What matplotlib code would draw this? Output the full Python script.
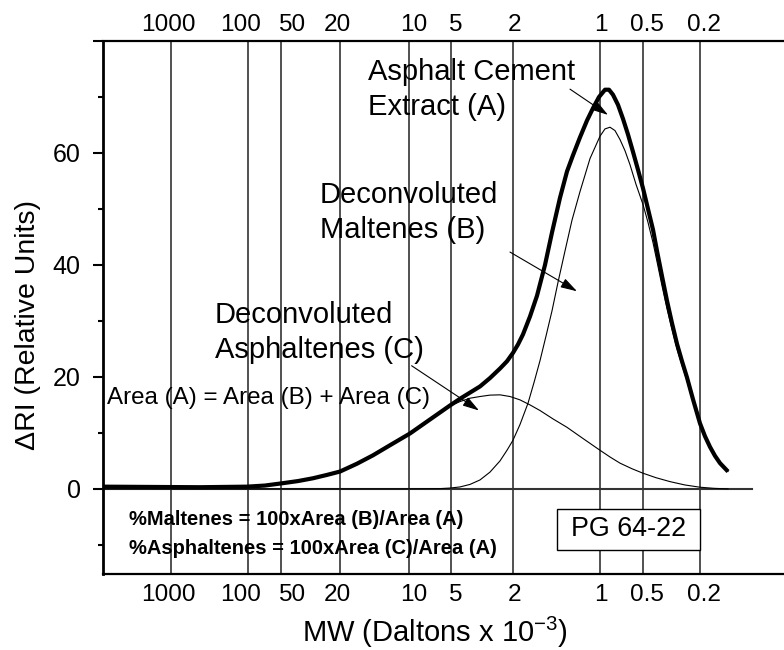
import matplotlib
matplotlib.use('Agg')
import matplotlib.pyplot as plt
from matplotlib.patches import Rectangle

plt.rcParams['font.family'] = ['Liberation Sans', 'DejaVu Sans']
plt.rcParams['mathtext.fontset'] = 'custom'
plt.rcParams['mathtext.rm'] = 'Liberation Sans'
plt.rcParams['mathtext.it'] = 'Liberation Sans:italic'
plt.rcParams['mathtext.bf'] = 'Liberation Sans:bold'

# ---------------- data (elution position in arbitrary units, dRI values) -------------
elution_A = [0.0, 2.35, 4.85, 7.2, 8.1, 8.95, 9.75, 10.5, 11.2, 11.85, 12.7, 13.5, 14.35,
             15.35, 16.35, 17.35, 17.85, 18.35, 18.85, 19.35, 19.85, 20.2, 20.5, 20.75,
             21.0, 21.35, 21.7, 22.1, 22.45, 22.85, 23.2, 23.5, 23.85, 24.2, 24.5, 24.8,
             25.1, 25.3, 25.5, 25.75, 26.0, 26.25, 26.5, 26.75, 27.0, 27.25, 27.5, 27.7,
             27.95, 28.2, 28.45, 28.7, 28.95, 29.2, 29.5, 29.85, 30.1, 30.35, 30.6, 30.85,
             31.25]
ri_A = [0.4, 0.35, 0.3, 0.4, 0.6, 1.0, 1.4, 1.9, 2.5, 3.1, 4.5, 6.0, 7.8,
        9.9, 12.4, 14.9, 16.1, 17.2, 18.3, 19.8, 21.5, 22.8, 24.3, 25.8,
        27.6, 30.8, 34.5, 40.0, 45.8, 52.0, 56.7, 59.6, 62.8, 65.8, 68.0, 70.0,
        71.3, 71.3, 70.4, 68.6, 66.1, 63.3, 60.2, 57.0, 53.7, 50.0, 46.3, 42.5,
        38.0, 33.6, 29.6, 25.9, 22.8, 19.9, 16.0, 11.7, 9.4, 7.5, 5.9, 4.6,
        3.1]

elution_B = [0.0, 9.85, 14.85, 16.85, 17.35, 17.85, 18.35, 18.85, 19.35, 19.85, 20.2,
             20.5, 20.85, 21.25, 21.55, 21.85, 22.15, 22.45, 22.75, 23.1, 23.45, 23.85,
             24.35, 24.85, 25.1, 25.35, 25.6, 25.85, 26.1, 26.35, 26.65, 27.0, 27.25,
             27.5, 27.7, 27.95, 28.2, 28.45, 28.7, 28.95, 29.2, 29.5, 29.85, 30.1, 30.35,
             30.6, 30.85, 31.25]
ri_B = [0.0, 0.0, 0.0, 0.05, 0.15, 0.35, 0.8, 1.6, 3.0, 5.0, 6.9,
        8.7, 11.5, 15.3, 19.0, 22.9, 27.3, 31.8, 36.9, 42.5, 48.0, 53.1,
        59.0, 63.0, 64.3, 64.6, 64.0, 62.4, 60.4, 57.9, 54.4, 50.8, 47.6,
        44.0, 40.6, 36.3, 32.2, 28.5, 25.0, 22.1, 19.3, 15.6, 11.4, 9.2, 7.4,
        5.8, 4.5, 3.1]

elution_C = [0.0, 2.35, 4.85, 7.2, 8.1, 8.95, 9.75, 10.5, 11.2, 11.85, 12.7, 13.5, 14.35,
             15.35, 16.35, 17.35, 17.85, 18.35, 18.85, 19.35, 19.85, 20.35, 20.85, 21.35,
             21.85, 22.5, 23.2, 24.0, 24.85, 25.35, 25.85, 26.45, 27.0, 27.65, 28.35,
             29.1, 29.85, 30.55, 31.25]
ri_C = [0.4, 0.35, 0.3, 0.4, 0.6, 1.0, 1.4, 1.9, 2.5, 3.1, 4.5, 6.0, 7.8,
        9.9, 12.4, 14.8, 15.6, 16.2, 16.5, 16.75, 16.8, 16.5, 15.9, 15.0,
        14.0, 12.5, 11.0, 9.0, 6.9, 5.7, 4.6, 3.6, 2.8, 2.0, 1.3,
        0.7, 0.3, 0.1, 0.0]

mw_labels = ['1000', '100', '50', '20', '10', '5', '2', '1', '0.5', '0.2']
mw_line_pos = [3.4, 7.25, 8.9, 11.85, 15.3, 17.4, 20.475, 24.85, 26.975, 29.85]
mw_label_pos = [3.29, 6.9, 9.45, 11.7, 15.55, 17.6, 20.6, 24.9, 27.2, 30.05]

y_major = [0, 20, 40, 60, 80]
y_major_labels = ['0', '20', '40', '60', '']
y_minor = [-10, 10, 30, 50, 70]

# ---------------- figure ----------------
fig = plt.figure(figsize=(7.84, 6.5), dpi=100)
ax = fig.add_axes([103 / 784, 1 - 574 / 650, 681 / 784, 533 / 650])
ax.set_xlim(0, 34.05)
ax.set_ylim(-15.2, 80)

ax.spines['right'].set_visible(False)
ax.spines['left'].set_linewidth(2.0)
ax.spines['top'].set_linewidth(1.6)
ax.spines['bottom'].set_linewidth(1.6)

# MW calibration lines
for p in mw_line_pos:
    ax.axvline(p, color='#222222', lw=1.1, zorder=1)

# baseline
ax.axhline(0, xmin=0, xmax=(752 - 103) / 681, color='#333333', lw=1.5, zorder=1)

# curves
ax.plot(elution_C, ri_C, color='black', lw=0.8, zorder=3, solid_joinstyle='round')
ax.plot(elution_B, ri_B, color='black', lw=0.8, zorder=3, solid_joinstyle='round')
ax.plot(elution_A, ri_A, color='black', lw=3.0, zorder=4, solid_capstyle='butt',
        solid_joinstyle='round')

# x ticks (bottom)
ax.set_xticks(mw_label_pos)
ax.set_xticklabels(mw_labels)
ax.tick_params(axis='x', length=0, labelsize=17.6, pad=7)

# x ticks (top)
sec = ax.secondary_xaxis('top')
sec.set_xticks(mw_label_pos)
sec.set_xticklabels(mw_labels)
sec.tick_params(axis='x', length=0, labelsize=17.6, pad=3.5)
sec.spines['top'].set_visible(False)

# y ticks
ax.set_yticks(y_major)
ax.set_yticklabels(y_major_labels)
ax.set_yticks(y_minor, minor=True)
ax.tick_params(axis='y', which='major', direction='out', length=7, width=1.5,
               labelsize=18, pad=9)
ax.tick_params(axis='y', which='minor', direction='out', length=3.5, width=1.5)

# axis labels
fig.text(28 / 784, 1 - 325 / 650, 'ΔRI (Relative Units)', rotation=90,
         ha='center', va='center', fontsize=20.5)
fig.text(435 / 784, 1 - 632 / 650, 'MW (Daltons x 10$^{-3}$)',
         ha='center', va='center', fontsize=21)

# annotations
ax.text(13.25, 71.4, 'Asphalt Cement\nExtract (A)', ha='left', va='center',
        fontsize=21, linespacing=1.32, zorder=5)
ax.text(10.85, 49.3, 'Deconvoluted\nMaltenes (B)', ha='left', va='center',
        fontsize=21, linespacing=1.32, zorder=5)
ax.text(5.6, 28.0, 'Deconvoluted\nAsphaltenes (C)', ha='left', va='center',
        fontsize=21, linespacing=1.32, zorder=5)
ax.text(0.2, 16.25, 'Area (A) = Area (B) + Area (C)', ha='left', va='center',
        fontsize=17.4, zorder=5)

ax.text(1.3, -5.5, '%Maltenes = 100xArea (B)/Area (A)', ha='left', va='center',
        fontsize=14.5, fontweight='bold', zorder=5)
ax.text(1.3, -10.7, '%Asphaltenes = 100xArea (C)/Area (A)', ha='left', va='center',
        fontsize=14.5, fontweight='bold', zorder=5)

arrow_kw = dict(arrowstyle='-|>,head_length=1.0,head_width=0.3', color='black',
                lw=0.8, shrinkA=0, shrinkB=0, mutation_scale=10)
ax.annotate('', xy=(25.25, 66.8), xytext=(23.35, 71.4), arrowprops=arrow_kw, zorder=5)
ax.annotate('', xy=(23.7, 35.3), xytext=(20.35, 42.3), arrowprops=arrow_kw, zorder=5)
ax.annotate('', xy=(18.8, 14.0), xytext=(15.43, 22.0), arrowprops=arrow_kw, zorder=5)

# sample box
ax.add_patch(Rectangle((22.7, -10.9), 7.15, 7.33, facecolor='white',
                       edgecolor='black', lw=1.0, zorder=6))
ax.text(26.275, -7.2, 'PG 64-22', ha='center', va='center', fontsize=19.4, zorder=7)

fig.savefig('out.png', dpi=100)
